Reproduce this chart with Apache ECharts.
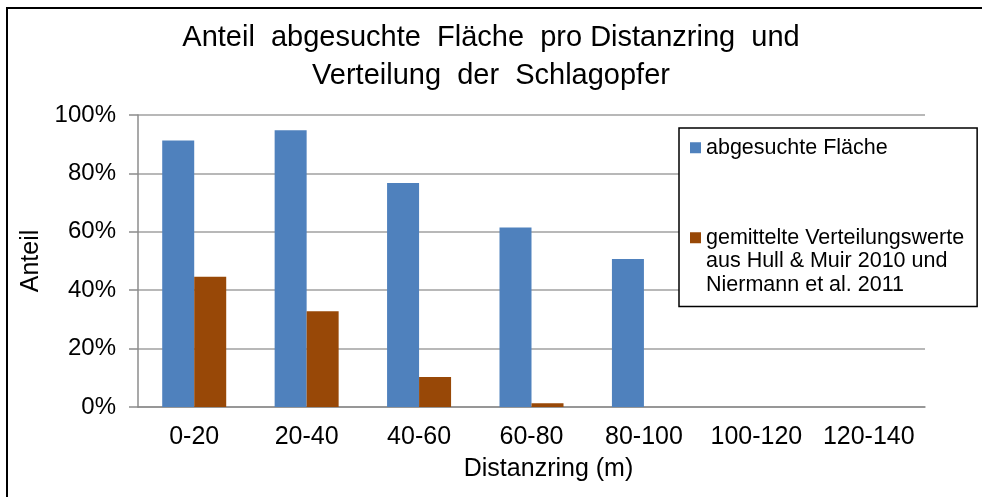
<!DOCTYPE html>
<html>
<head>
<meta charset="utf-8">
<script src="https://cdn.jsdelivr.net/npm/echarts@6/dist/echarts.min.js"></script>
<style>
  html, body { margin: 0; padding: 0; background: #fff; }
  #chart { width: 982px; height: 497px; }
</style>
</head>
<body>
<div id="chart"></div>
<script>
// Distanzringe (m)
var categories = ['0-20', '20-40', '40-60', '60-80', '80-100', '100-120', '120-140'];
// Anteil in %
var flaeche = [91.3, 94.8, 76.7, 61.5, 50.7, 0, 0];
var verteilung = [44.6, 32.8, 10.3, 1.3, 0, 0, 0];
var yTicks = [0, 20, 40, 60, 80, 100];

var name1 = 'abgesuchte Fläche';
var name2 = 'gemittelte Verteilungswerte aus Hull & Muir 2010 und Niermann et al. 2011';
var legendText = {};
legendText[name1] = 'abgesuchte Fläche';
// leere Zeilen oben, damit das Symbol auf Höhe der ersten Zeile sitzt
legendText[name2] = '\n\ngemittelte Verteilungswerte\naus Hull & Muir 2010 und\nNiermann et al. 2011';

var font = 'Liberation Sans, Arial, sans-serif';

var myChart = echarts.init(document.getElementById('chart'));
var option = {
  backgroundColor: '#fff',
  animation: false,
  title: {
    text: 'Anteil  abgesuchte  Fläche  pro Distanzring  und\nVerteilung  der  Schlagopfer',
    left: 'center',
    top: 14,
    textStyle: {
      fontFamily: font,
      fontSize: 29,
      fontWeight: 'normal',
      color: '#000',
      lineHeight: 38
    }
  },
  graphic: [{
    type: 'rect',
    shape: { x: 7, y: 8, width: 1100, height: 600 },
    style: { fill: 'none', stroke: '#000', lineWidth: 2 },
    silent: true
  }],
  legend: {
    orient: 'vertical',
    left: 679,
    top: 128,
    padding: [8, 13, 10, 11],
    itemWidth: 11,
    itemHeight: 11,
    itemGap: 19.5,
    icon: 'rect',
    backgroundColor: '#fff',
    borderColor: '#000',
    borderWidth: 1.5,
    data: [name1, name2],
    formatter: function (n) { return legendText[n]; },
    textStyle: {
      fontFamily: font,
      fontSize: 21.5,
      lineHeight: 23.5,
      color: '#000'
    }
  },
  grid: {
    left: 138,
    right: 57,
    top: 115,
    bottom: 90
  },
  xAxis: {
    type: 'category',
    data: categories,
    name: 'Distanzring (m)',
    nameLocation: 'middle',
    nameGap: 50,
    nameTextStyle: { fontFamily: font, fontSize: 25, color: '#000', padding: [0, 0, 0, 34] },
    axisLine: { lineStyle: { color: '#8c8c8c', width: 1.5 } },
    axisTick: { length: 7, lineStyle: { color: '#8c8c8c', width: 1.5 } },
    axisLabel: { fontFamily: font, fontSize: 25, color: '#000', margin: 18, interval: 0 }
  },
  yAxis: {
    type: 'value',
    min: 0,
    max: 100,
    interval: 20,
    name: 'Anteil',
    nameLocation: 'middle',
    nameGap: 93,
    nameTextStyle: { fontFamily: font, fontSize: 25, color: '#000' },
    axisLine: { show: true, lineStyle: { color: '#8c8c8c', width: 1.5 } },
    axisTick: { show: true, length: 9, lineStyle: { color: '#8c8c8c', width: 1.5 } },
    splitLine: { lineStyle: { color: '#a0a0a0', width: 1.5 } },
    axisLabel: {
      fontFamily: font,
      fontSize: 24,
      color: '#000',
      margin: 22,
      formatter: function (v) { return yTicks.indexOf(v) >= 0 ? v + '%' : ''; }
    }
  },
  series: [
    {
      name: name1,
      type: 'bar',
      data: flaeche,
      barWidth: 32,
      barGap: '0%',
      itemStyle: { color: '#4f81bd' }
    },
    {
      name: name2,
      type: 'bar',
      data: verteilung,
      barWidth: 32,
      barGap: '0%',
      itemStyle: { color: '#984807' }
    }
  ]
};
myChart.setOption(option);
</script>
</body>
</html>
